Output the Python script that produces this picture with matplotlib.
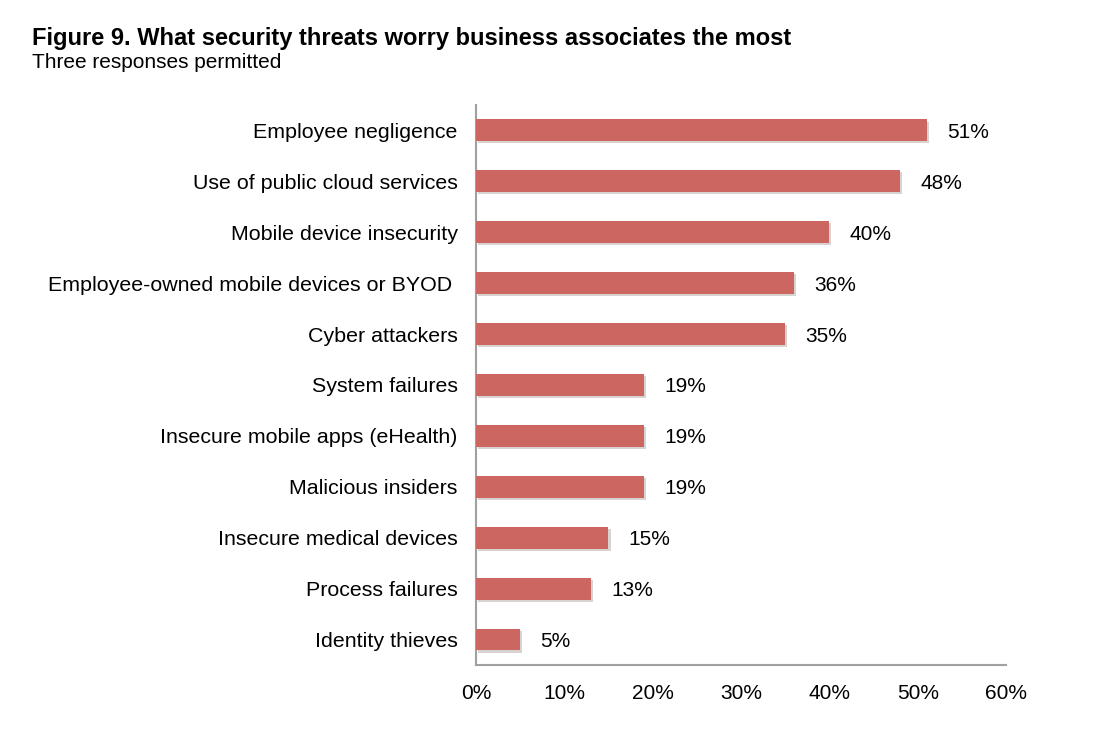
import matplotlib.pyplot as plt
import matplotlib.patheffects as pe
from matplotlib.ticker import FuncFormatter

categories = [
    "Employee negligence",
    "Use of public cloud services",
    "Mobile device insecurity",
    "Employee-owned mobile devices or BYOD ",
    "Cyber attackers",
    "System failures",
    "Insecure mobile apps (eHealth)",
    "Malicious insiders",
    "Insecure medical devices",
    "Process failures",
    "Identity thieves",
]
values = [51, 48, 40, 36, 35, 19, 19, 19, 15, 13, 5]
x_ticks = [0, 10, 20, 30, 40, 50, 60]

BAR_COLOR = "#CC6660"
AXIS_COLOR = "#A0A0A0"

plt.rcParams["font.family"] = ["Liberation Sans", "DejaVu Sans"]

fig = plt.figure(figsize=(10.94, 7.31), dpi=100)
ax = fig.add_axes([0.435, 0.0903, 0.4846, 0.7661])

ypos = list(range(len(categories)))
ax.barh(ypos, values, height=0.43, color=BAR_COLOR, zorder=3,
        path_effects=[pe.SimplePatchShadow(offset=(1.5, -1.5), alpha=0.2),
                      pe.Normal()])

for y, v in zip(ypos, values):
    ax.text(v + 2.3, y, f"{v}%", va="center_baseline", ha="left", fontsize=15, color="black")

ax.set_ylim(len(categories) - 0.5, -0.5)
ax.set_xlim(0, 60)
ax.set_yticks(ypos)
ax.set_yticklabels(categories, fontsize=15.4)
ax.set_xticks(x_ticks)
ax.xaxis.set_major_formatter(FuncFormatter(lambda x, pos: f"{x:.0f}%"))
ax.tick_params(axis="x", length=0, pad=14, labelsize=15)
ax.tick_params(axis="y", length=0, pad=13)
for lbl in ax.get_yticklabels():
    lbl.set_verticalalignment("center_baseline")

for side in ["top", "right"]:
    ax.spines[side].set_visible(False)
for side in ["left", "bottom"]:
    ax.spines[side].set_color(AXIS_COLOR)
    ax.spines[side].set_linewidth(1.5)

fig.text(32 / 1094, 1 - 38 / 731, "Figure 9. What security threats worry business associates the most",
         fontsize=17, fontweight="bold", va="center", ha="left")
fig.text(32 / 1094, 1 - 63 / 731, "Three responses permitted", fontsize=15, va="center", ha="left")

fig.savefig("out.png", dpi=100)
